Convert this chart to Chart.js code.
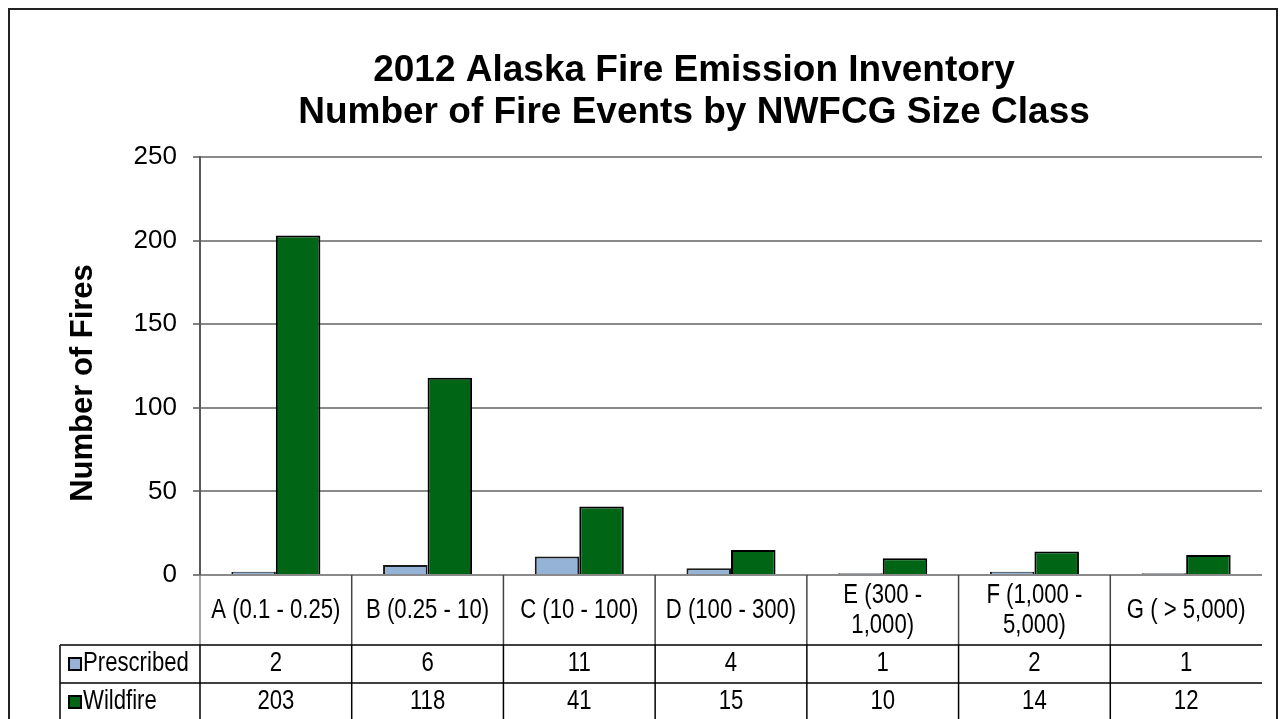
<!DOCTYPE html>
<html>
<head>
<meta charset="utf-8">
<script src="https://cdn.jsdelivr.net/npm/chart.js@4.4.1/dist/chart.umd.min.js"></script>
<style>
  html, body { margin: 0; padding: 0; background: #fff; }
  #wrap { width: 1283px; height: 719px; }
</style>
</head>
<body>
<div id="wrap"><canvas id="fireChart" width="1283" height="719"></canvas></div>
<script>
// datos
const categorias = ["A (0.1 - 0.25)", "B (0.25 - 10)", "C (10 - 100)", "D (100 - 300)", "E (300 -|1,000)", "F (1,000 -|5,000)", "G ( > 5,000)"];
const prescribed = [2, 6, 11, 4, 1, 2, 1];
const wildfire = [203, 118, 41, 15, 10, 14, 12];
const tituloLineas = ["2012 Alaska Fire Emission Inventory", "Number of Fire Events by NWFCG Size Class"];
const tituloY = "Number of Fires";
const yTicks = { min: 0, max: 250, step: 50 };

const colorPrescribed = "#95B3D7";
const colorWildfire = "#006616";
const arial = "'Liberation Sans', Arial, sans-serif";

// texto estrecho (imita Arial Narrow)
function textoNarrow(ctx, txt, x, y, size, align) {
  ctx.save();
  ctx.translate(x, y);
  ctx.scale(0.82, 1);
  ctx.font = size + "px " + arial;
  ctx.textAlign = align;
  ctx.textBaseline = "middle";
  ctx.fillText(txt, 0, 0);
  ctx.restore();
}

// titulo, eje Y y tabla de datos bajo el grafico
const tablaPlugin = {
  id: "tabla",
  afterDraw(chart) {
    const ctx = chart.ctx;
    const x = chart.scales.x;
    const area = chart.chartArea;
    const n = categorias.length;
    const ancho = (area.right - area.left) / n;
    const filaCat = area.bottom + 70;
    const filaP = filaCat + 38;
    const filaW = filaP + 38;
    const izq = 60;

    ctx.save();
    // marco exterior
    ctx.strokeStyle = "#222";
    ctx.lineWidth = 2;
    ctx.strokeRect(9, 9, 1268, 730);

    // titulo
    ctx.fillStyle = "#000";
    ctx.textAlign = "center";
    ctx.textBaseline = "middle";
    ctx.font = "bold 37px " + arial;
    ctx.fillText(tituloLineas[0], 694, 71);
    ctx.fillText(tituloLineas[1], 694, 113);

    // titulo eje y
    ctx.save();
    ctx.translate(83, 383);
    ctx.rotate(-Math.PI / 2);
    ctx.font = "bold 31px " + arial;
    ctx.fillText(tituloY, 0, 0);
    ctx.restore();

    // lineas de la fila de categorias
    for (let i = 0; i < n; i++) {
      const bx = area.left + i * ancho;
      ctx.strokeStyle = i === 0 ? "#8a8a8a" : "#444";
      ctx.lineWidth = 1.5;
      ctx.beginPath();
      ctx.moveTo(bx, area.bottom);
      ctx.lineTo(bx, filaCat);
      ctx.stroke();
    }

    // lineas de las filas de series
    ctx.strokeStyle = "#000";
    ctx.lineWidth = 1.5;
    [filaCat, filaP].forEach(y => {
      ctx.beginPath();
      ctx.moveTo(izq, y);
      ctx.lineTo(area.right, y);
      ctx.stroke();
    });
    const verts = [izq];
    for (let i = 0; i < n; i++) verts.push(area.left + i * ancho);
    verts.forEach(vx => {
      ctx.beginPath();
      ctx.moveTo(vx, filaCat);
      ctx.lineTo(vx, 730);
      ctx.stroke();
    });

    // etiquetas de categoria
    ctx.fillStyle = "#000";
    categorias.forEach((c, i) => {
      const cx = x.getPixelForValue(i);
      const partes = c.split("|");
      if (partes.length === 1) {
        textoNarrow(ctx, partes[0], cx, area.bottom + 36, 27, "center");
      } else {
        textoNarrow(ctx, partes[0], cx, area.bottom + 21, 27, "center");
        textoNarrow(ctx, partes[1], cx, area.bottom + 51, 27, "center");
      }
    });

    // filas de valores
    const filas = [
      { nombre: "Prescribed", datos: prescribed, color: colorPrescribed, y: (filaCat + filaP) / 2 },
      { nombre: "Wildfire", datos: wildfire, color: colorWildfire, y: (filaP + filaW) / 2 }
    ];
    filas.forEach(f => {
      ctx.fillStyle = f.color;
      ctx.fillRect(69, f.y - 6, 12, 12);
      ctx.strokeStyle = "#000";
      ctx.lineWidth = 2;
      ctx.strokeRect(69, f.y - 6, 12, 12);
      ctx.fillStyle = "#000";
      textoNarrow(ctx, f.nombre, 83, f.y, 27, "left");
      f.datos.forEach((v, i) => textoNarrow(ctx, String(v), x.getPixelForValue(i), f.y, 27, "center"));
    });
    ctx.restore();
  }
};

new Chart(document.getElementById("fireChart"), {
  type: "bar",
  data: {
    labels: categorias,
    datasets: [
      { label: "Prescribed", data: prescribed, backgroundColor: colorPrescribed, borderColor: "#1a1a1a", borderWidth: 2 },
      { label: "Wildfire", data: wildfire, backgroundColor: colorWildfire, borderColor: "#000", borderWidth: 2 }
    ]
  },
  options: {
    responsive: false,
    animation: false,
    devicePixelRatio: 1,
    categoryPercentage: 0.587,
    barPercentage: 1,
    layout: { padding: { left: 60, right: 21, top: 157, bottom: 144 } },
    plugins: { legend: { display: false }, title: { display: false }, tooltip: { enabled: false } },
    scales: {
      x: { display: false },
      y: {
        min: yTicks.min,
        max: yTicks.max,
        afterFit: s => { s.width = 140; },
        ticks: { stepSize: yTicks.step, color: "#000", font: { family: arial, size: 26 }, padding: 16 },
        grid: { color: "#8a8a8a", lineWidth: 2, tickColor: "#000", tickLength: 7, tickWidth: 1 },
        border: { color: "#5a5a5a", width: 2 }
      }
    }
  },
  plugins: [tablaPlugin]
});
</script>
</body>
</html>
